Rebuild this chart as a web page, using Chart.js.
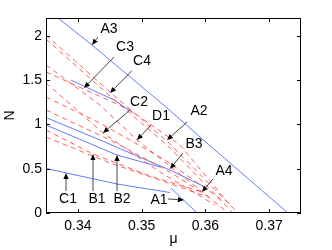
<!DOCTYPE html>
<html>
<head>
<meta charset="utf-8">
<script src="https://cdn.jsdelivr.net/npm/chart.js@4.4.0/dist/chart.umd.min.js"></script>
<style>
  html, body { margin: 0; padding: 0; background: #fff; }
  #wrap { width: 332px; height: 250px; }
</style>
</head>
<body>
<div id="wrap"><canvas id="chart" width="332" height="250"></canvas></div>
<script>
const xTicks = [0.34, 0.35, 0.36, 0.37];
const yTicks = [0, 0.5, 1, 1.5, 2];

// solid (blue) boundaries
const a3Mu = [0.33688, 0.34222, 0.35382, 0.35916, 0.37296];
const a3N  = [2.200, 1.895, 1.196, 0.857, 0];
const c3Mu = [0.33892, 0.34567, 0.34865];
const c3N  = [1.500, 1.275, 1.128];
const b3Mu = [0.335, 0.34347, 0.34818, 0.35445, 0.35994];
const b3N  = [1.077, 0.824, 0.677, 0.485, 0.293];
const b2Mu = [0.335, 0.34614, 0.35288];
const b2N  = [0.993, 0.654, 0.519];
const c1Mu = [0.335, 0.34614, 0.35445];
const c1N  = [0.502, 0.327, 0.231];
const a1Mu = [0.35461, 0.35869];
const a1N  = [0.282, 0];

// dashed (red) boundaries
const r1Mu = [0.335, 0.34520, 0.35414, 0.36512];
const r1N  = [2.008, 1.354, 0.801, 0];
const r2Mu = [0.335, 0.34520, 0.35414, 0.36433];
const r2N  = [1.963, 1.309, 0.756, 0];
const r3Mu = [0.335, 0.34347, 0.34927, 0.35916, 0.36324];
const r3N  = [1.670, 1.218, 0.824, 0.259, 0.02];
const r4Mu = [0.335, 0.34818, 0.35602, 0.36386];
const r4N  = [1.591, 1.162, 0.767, 0.090];
const r5Mu = [0.335, 0.34394, 0.35288, 0.36151];
const r5N  = [1.467, 0.903, 0.463, 0.090];
const r6Mu = [0.335, 0.34347, 0.35367, 0.36261];
const r6N  = [1.309, 1.015, 0.598, 0.147];
const r7Mu = [0.335, 0.34504, 0.35445, 0.36073];
const r7N  = [1.162, 0.824, 0.463, 0.169];
const r8Mu = [0.335, 0.34237, 0.35131, 0.35947];
const r8N  = [0.936, 0.666, 0.417, 0.237];
const r9Mu = [0.335, 0.34504, 0.35288, 0.35994];
const r9N  = [0.857, 0.564, 0.372, 0.192];

// region labels and their arrows
const labelText = ['A3', 'C3', 'C4', 'C2', 'D1', 'A2', 'B3', 'A4', 'A1', 'C1', 'B1', 'B2'];
const labelMu   = [0.34488, 0.34739, 0.35006, 0.34959, 0.35304, 0.35900, 0.35822, 0.36292, 0.35273, 0.33845, 0.34300, 0.34692];
const labelN    = [2.076, 1.873, 1.715, 1.252, 1.094, 1.151, 0.778, 0.474, 0.147, 0.158, 0.158, 0.158];
const tailMu    = [0.34316, 0.34567, 0.34849, 0.34818, 0.35147, 0.35712, 0.35649, 0.36120, 0.35414, 0.33814, 0.34237, 0.34614];
const tailN     = [1.986, 1.760, 1.607, 1.162, 0.993, 1.027, 0.677, 0.384, 0.158, 0.248, 0.248, 0.248];
const headMu    = [0.34222, 0.34096, 0.34504, 0.34394, 0.34927, 0.35398, 0.35445, 0.35947, 0.35664, 0.33814, 0.34237, 0.34614];
const headN     = [1.895, 1.410, 1.354, 0.903, 0.824, 0.824, 0.497, 0.237, 0.147, 0.451, 0.666, 0.654];

const FONT = "'Liberation Sans', Arial, sans-serif";
const BLUE = 'rgb(95, 125, 255)';
const RED = 'rgb(255, 75, 75)';

function curve(mu, n, color, dashed) {
    return {
        data: mu.map((m, i) => ({ x: m, y: n[i] })),
        showLine: true,
        borderColor: color,
        borderWidth: dashed ? 0.9 : 1,
        borderDash: dashed ? [5, 4] : [],
        pointRadius: 0,
        tension: 0,
        fill: false
    };
}

const datasets = [
    curve(r1Mu, r1N, RED, true),
    curve(r2Mu, r2N, RED, true),
    curve(r3Mu, r3N, RED, true),
    curve(r4Mu, r4N, RED, true),
    curve(r5Mu, r5N, RED, true),
    curve(r6Mu, r6N, RED, true),
    curve(r7Mu, r7N, RED, true),
    curve(r8Mu, r8N, RED, true),
    curve(r9Mu, r9N, RED, true),
    curve(a3Mu, a3N, BLUE, false),
    curve(c3Mu, c3N, BLUE, false),
    curve(b3Mu, b3N, BLUE, false),
    curve(b2Mu, b2N, BLUE, false),
    curve(c1Mu, c1N, BLUE, false),
    curve(a1Mu, a1N, BLUE, false)
];

const framePlugin = {
    id: 'frame',
    afterDatasetsDraw(chart) {
        const { ctx, chartArea: a, scales: { x, y } } = chart;
        ctx.save();
        ctx.strokeStyle = '#000';
        ctx.lineWidth = 1;
        ctx.setLineDash([]);
        ctx.strokeRect(a.left + 0.5, a.top + 0.5, a.right - a.left - 1, a.bottom - a.top - 1);

        ctx.beginPath();
        xTicks.forEach(v => {
            const px = Math.round(x.getPixelForValue(v)) + 0.5;
            ctx.moveTo(px, a.bottom); ctx.lineTo(px, a.bottom - 4);
            ctx.moveTo(px, a.top); ctx.lineTo(px, a.top + 4);
        });
        yTicks.forEach(v => {
            const py = Math.round(y.getPixelForValue(v)) + 0.5;
            ctx.moveTo(a.left, py); ctx.lineTo(a.left + 4, py);
            ctx.moveTo(a.right, py); ctx.lineTo(a.right - 4, py);
        });
        ctx.stroke();

        // arrows
        labelText.forEach((t, i) => {
            const x0 = x.getPixelForValue(tailMu[i]), y0 = y.getPixelForValue(tailN[i]);
            const x1 = x.getPixelForValue(headMu[i]), y1 = y.getPixelForValue(headN[i]);
            const ang = Math.atan2(y1 - y0, x1 - x0);
            const hl = 6, hw = 2.6;
            ctx.strokeStyle = '#333';
            ctx.lineWidth = 0.9;
            ctx.beginPath();
            ctx.moveTo(x0, y0);
            ctx.lineTo(x1 - Math.cos(ang) * hl, y1 - Math.sin(ang) * hl);
            ctx.stroke();
            ctx.fillStyle = '#000';
            ctx.beginPath();
            ctx.moveTo(x1, y1);
            ctx.lineTo(x1 - Math.cos(ang) * hl - Math.sin(ang) * hw, y1 - Math.sin(ang) * hl + Math.cos(ang) * hw);
            ctx.lineTo(x1 - Math.cos(ang) * hl + Math.sin(ang) * hw, y1 - Math.sin(ang) * hl - Math.cos(ang) * hw);
            ctx.closePath();
            ctx.fill();

            ctx.font = '14px ' + FONT;
            ctx.textAlign = 'center';
            ctx.textBaseline = 'middle';
            ctx.fillText(t, x.getPixelForValue(labelMu[i]), y.getPixelForValue(labelN[i]));
        });
        ctx.restore();
    }
};

new Chart(document.getElementById('chart'), {
    type: 'scatter',
    data: { datasets },
    options: {
        responsive: false,
        animation: false,
        devicePixelRatio: 1,
        layout: { padding: { left: 0, right: 31, top: 18, bottom: 0 } },
        plugins: { legend: { display: false }, tooltip: { enabled: false } },
        scales: {
            x: {
                type: 'linear',
                min: 0.335,
                max: 0.375,
                afterFit: s => { s.height = 37; },
                afterBuildTicks: s => { s.ticks = xTicks.map(v => ({ value: v })); },
                grid: { display: false, drawTicks: false },
                border: { display: false },
                ticks: {
                    color: '#000',
                    padding: 5,
                    maxRotation: 0,
                    font: { family: FONT, size: 14 },
                    callback: v => v.toFixed(2)
                },
                title: {
                    display: true,
                    text: 'μ',
                    color: '#000',
                    font: { family: FONT, size: 14 },
                    padding: { top: 0, bottom: 2 }
                }
            },
            y: {
                type: 'linear',
                min: 0,
                max: 2.2,
                afterFit: s => { s.width = 46; },
                afterBuildTicks: s => { s.ticks = yTicks.map(v => ({ value: v })); },
                grid: { display: false, drawTicks: false },
                border: { display: false },
                ticks: {
                    color: '#000',
                    padding: 4,
                    font: { family: FONT, size: 14 },
                    callback: v => String(v)
                },
                title: {
                    display: true,
                    text: 'N',
                    color: '#000',
                    font: { family: FONT, size: 14 },
                    padding: { top: 2, bottom: 0 }
                }
            }
        }
    },
    plugins: [framePlugin]
});
</script>
</body>
</html>
